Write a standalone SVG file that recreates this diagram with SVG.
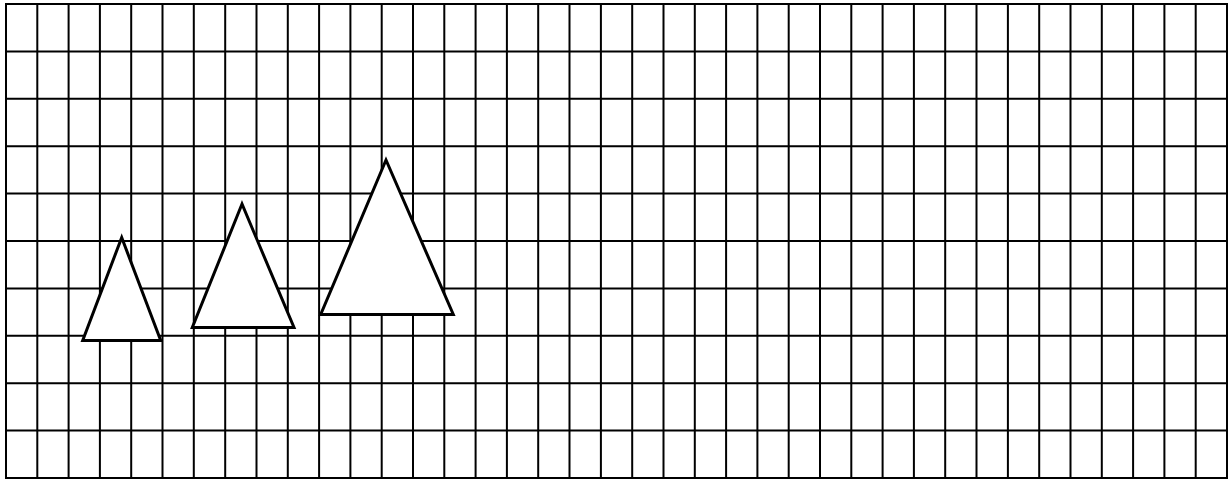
<svg xmlns="http://www.w3.org/2000/svg" width="1232" height="479" viewBox="0 0 1232 479">
<style>.g{fill:none;stroke:#000;stroke-width:2}.tri{fill:#fff;stroke:#000;stroke-width:3;stroke-linejoin:miter}</style>
<rect width="1232" height="479" fill="#fff"/>
<g id="grid-lines">
<path class="g" d="M6 4V478M37.3 4V478M68.6 4V478M99.9 4V478M131.2 4V478M162.5 4V478M193.8 4V478M225.2 4V478M256.5 4V478M287.8 4V478M319.1 4V478M350.4 4V478M381.7 4V478M413 4V478M444.3 4V478M475.6 4V478M506.9 4V478M538.2 4V478M569.5 4V478M600.9 4V478M632.2 4V478M663.5 4V478M694.8 4V478M726.1 4V478M757.4 4V478M788.7 4V478M820 4V478M851.3 4V478M882.6 4V478M913.9 4V478M945.2 4V478M976.5 4V478M1007.9 4V478M1039.2 4V478M1070.5 4V478M1101.8 4V478M1133.1 4V478M1164.4 4V478M1195.7 4V478M1227 4V478"/>
<path class="g" d="M5 4H1228M5 51.4H1228M5 98.8H1228M5 146.2H1228M5 193.6H1228M5 241H1228M5 288.4H1228M5 335.8H1228M5 383.2H1228M5 430.6H1228M5 478H1228"/>
</g>
<g id="triangle-small"><polygon class="tri" points="121.7,237.5 82.7,340.5 160.7,340.5"/></g>
<g id="triangle-medium"><polygon class="tri" points="242,204 192.3,327.5 294,327.5"/></g>
<g id="triangle-large"><polygon class="tri" points="386,160 320.7,314.5 453.3,314.5"/></g>
</svg>
